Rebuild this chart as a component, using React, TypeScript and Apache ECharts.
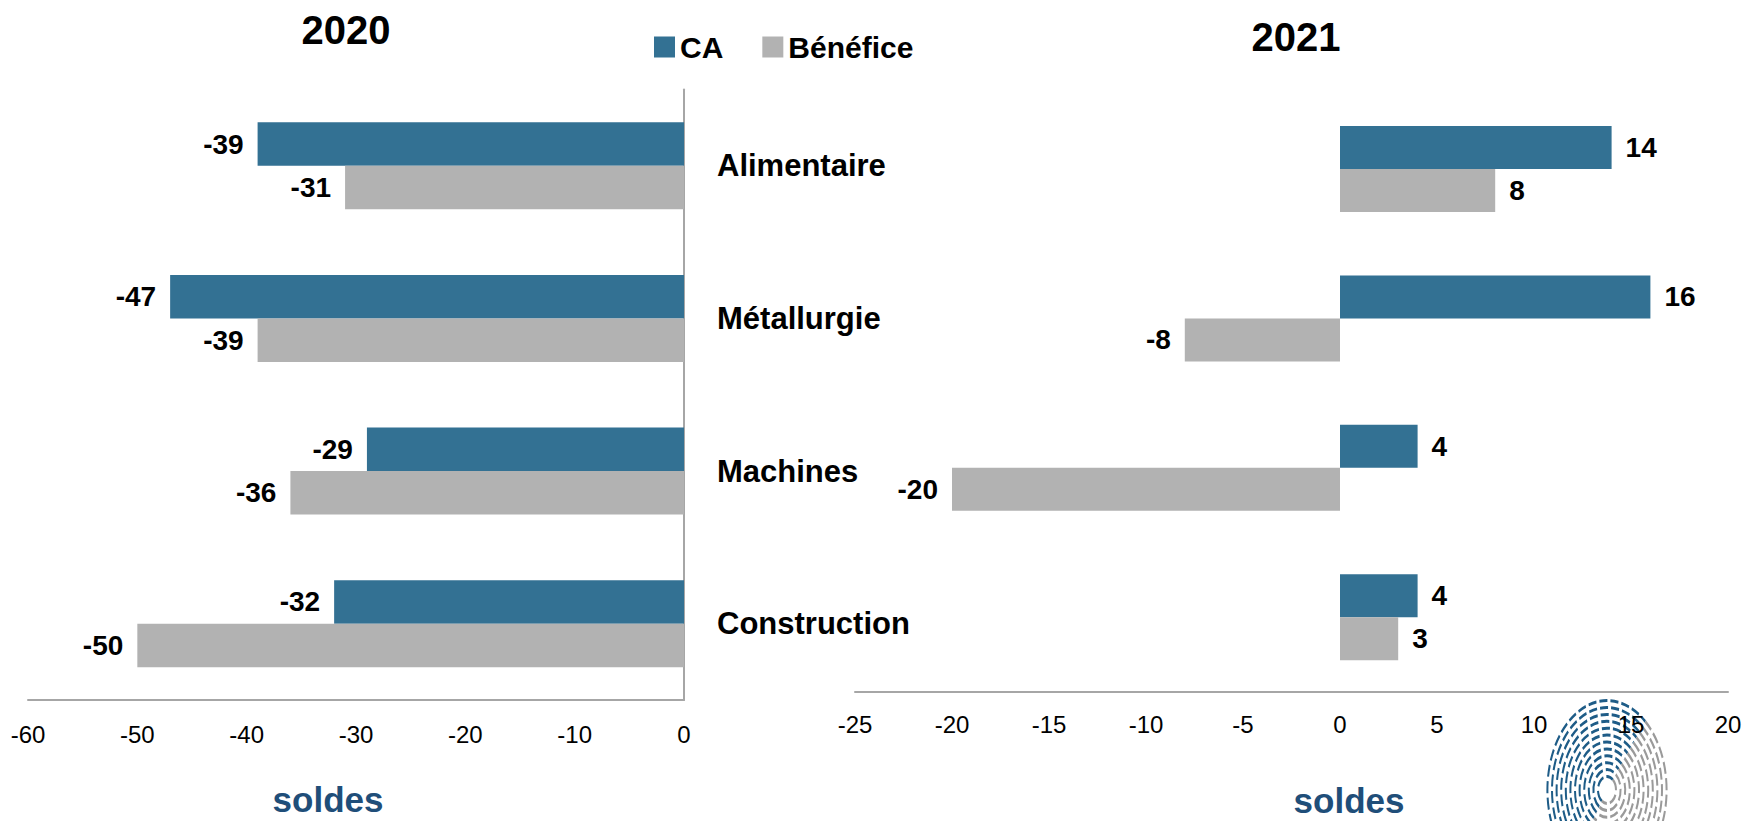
import React, { useEffect, useRef } from "react";
import * as echarts from "echarts";

const categories = ["Alimentaire", "Métallurgie", "Machines", "Construction"];
const ca2020 = [-39, -47, -29, -32];
const benefice2020 = [-31, -39, -36, -50];
const ca2021 = [14, 16, 4, 4];
const benefice2021 = [8, -8, -20, 3];
const seriesNames = ["CA", "Bénéfice"];
const titles = ["2020", "2021"];
const axisTitle = "soldes";

const FONT = "'Liberation Sans', Arial, sans-serif";
const BLUE = "#337193";
const GREY = "#B2B2B2";
const AXIS_GREY = "#A6A6A6";

function withLabels(values: number[]) {
  return values.map((v) => ({
    value: v,
    label: { position: v < 0 ? "left" : "right" },
  }));
}

function fingerprint() {
  const children: any[] = [];
  const rings = 12;
  for (let i = 0; i < rings; i++) {
    const r = 9 + i * 4.6;
    const a0 = (125 * Math.PI) / 180;
    const a1 = (310 * Math.PI) / 180;
    children.push({
      type: "arc",
      shape: { cx: 0, cy: 0, r, startAngle: a0, endAngle: a1, clockwise: true },
      style: { stroke: "#1E5C87", lineWidth: 2, fill: null, lineDash: [8, 3] },
      strokeNoScale: true,
      silent: true,
    });
    children.push({
      type: "arc",
      shape: { cx: 0, cy: 0, r, startAngle: a1, endAngle: a0 + Math.PI * 2, clockwise: true },
      style: { stroke: "#9A9A9A", lineWidth: 2, fill: null, lineDash: [8, 3] },
      strokeNoScale: true,
      silent: true,
    });
  }
  return {
    type: "group",
    x: 1607,
    y: 790,
    scaleY: 1.5,
    children,
    z: 100,
  };
}

export default function App() {
  const ref = useRef<HTMLDivElement>(null);
  useEffect(() => {
    if (!ref.current) return;
    const chart = echarts.init(ref.current, null, { renderer: "svg" });
    const labelStyle = {
      show: true,
      fontFamily: FONT,
      fontWeight: "bold",
      fontSize: 28,
      color: "#000",
      distance: 14,
    };
    const tickLabel = {
      fontFamily: FONT,
      fontSize: 24,
      color: "#000",
    };
    const option: any = {
      animation: false,
      backgroundColor: "#fff",
      textStyle: { fontFamily: FONT },
      legend: {
        data: seriesNames,
        left: 649,
        top: 27,
        itemWidth: 21,
        itemHeight: 21,
        itemGap: 39,
        icon: "rect",
        textStyle: { fontFamily: FONT, fontSize: 30, fontWeight: "bold", color: "#000" },
      },
      grid: [
        { left: 28, right: 1745 - 684, top: 89.5, bottom: 821 - 700, outerBoundsMode: "none", containLabel: false },
        { left: 855, right: 1745 - 1728, top: 94.3, bottom: 821 - 692, outerBoundsMode: "none", containLabel: false },
      ],
      xAxis: [
        {
          type: "value",
          gridIndex: 0,
          min: -60,
          max: 0,
          interval: 10,
          splitLine: { show: false },
          axisTick: { show: false },
          axisLine: { show: true, onZero: false, lineStyle: { color: AXIS_GREY, width: 2 } },
          axisLabel: { ...tickLabel, margin: 22 },
        },
        {
          type: "value",
          gridIndex: 1,
          min: -25,
          max: 20,
          interval: 5,
          splitLine: { show: false },
          axisTick: { show: false },
          axisLine: { show: true, onZero: false, lineStyle: { color: AXIS_GREY, width: 2 } },
          axisLabel: { ...tickLabel, margin: 20 },
        },
      ],
      yAxis: [
        {
          type: "category",
          gridIndex: 0,
          data: categories,
          inverse: true,
          position: "right",
          axisTick: { show: false },
          axisLine: { show: true, lineStyle: { color: AXIS_GREY, width: 2 } },
          axisLabel: {
            fontFamily: FONT,
            fontSize: 31,
            fontWeight: "bold",
            color: "#000",
            margin: 33,
          },
        },
        {
          type: "category",
          gridIndex: 1,
          data: categories,
          inverse: true,
          show: false,
        },
      ],
      series: [
        {
          name: seriesNames[0],
          type: "bar",
          xAxisIndex: 0,
          yAxisIndex: 0,
          data: withLabels(ca2020),
          barWidth: 43.5,
          barGap: "0%",
          itemStyle: { color: BLUE },
          label: labelStyle,
        },
        {
          name: seriesNames[1],
          type: "bar",
          xAxisIndex: 0,
          yAxisIndex: 0,
          data: withLabels(benefice2020),
          barWidth: 43.5,
          barGap: "0%",
          itemStyle: { color: GREY },
          label: labelStyle,
        },
        {
          name: seriesNames[0],
          type: "bar",
          xAxisIndex: 1,
          yAxisIndex: 1,
          data: withLabels(ca2021),
          barWidth: 43,
          barGap: "0%",
          itemStyle: { color: BLUE },
          label: labelStyle,
        },
        {
          name: seriesNames[1],
          type: "bar",
          xAxisIndex: 1,
          yAxisIndex: 1,
          data: withLabels(benefice2021),
          barWidth: 43,
          barGap: "0%",
          itemStyle: { color: GREY },
          label: labelStyle,
        },
      ],
      graphic: [
        {
          type: "text",
          x: 346,
          y: 30,
          style: {
            text: titles[0],
            fontFamily: FONT,
            fontSize: 40,
            fontWeight: "bold",
            fill: "#000",
            textAlign: "center",
            textVerticalAlign: "middle",
          },
        },
        {
          type: "text",
          x: 1296,
          y: 37,
          style: {
            text: titles[1],
            fontFamily: FONT,
            fontSize: 40,
            fontWeight: "bold",
            fill: "#000",
            textAlign: "center",
            textVerticalAlign: "middle",
          },
        },
        {
          type: "text",
          x: 328,
          y: 799,
          style: {
            text: axisTitle,
            fontFamily: FONT,
            fontSize: 35,
            fontWeight: "bold",
            fill: "#1F4E79",
            textAlign: "center",
            textVerticalAlign: "middle",
          },
        },
        {
          type: "text",
          x: 1349,
          y: 800,
          style: {
            text: axisTitle,
            fontFamily: FONT,
            fontSize: 35,
            fontWeight: "bold",
            fill: "#1F4E79",
            textAlign: "center",
            textVerticalAlign: "middle",
          },
        },
        fingerprint(),
      ],
    };
    chart.setOption(option);
    return () => chart.dispose();
  }, []);
  return (
    <div
      ref={ref}
      style={{ position: "fixed", left: 0, top: 0, width: 1745, height: 821 }}
    />
  );
}
